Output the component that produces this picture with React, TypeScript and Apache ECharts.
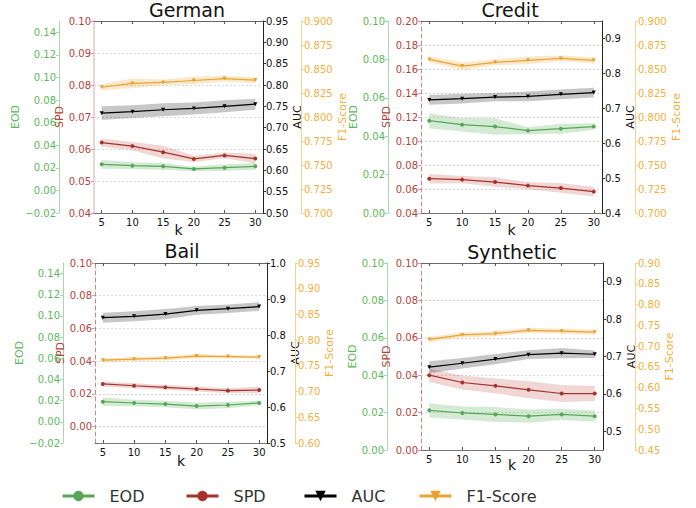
import React, { useEffect, useRef } from "react";
import * as echarts from "echarts";

// ---------- data ----------
const kValues = [5, 10, 15, 20, 25, 30];
const datasetNames = ["German", "Credit", "Bail", "Synthetic"];
const metricNames = ["EOD", "SPD", "AUC", "F1-Score"];

// German
const germanEOD = [0.0231, 0.0219, 0.0213, 0.019, 0.0201, 0.0213];
const germanEODSpread = [0.004, 0.003, 0.003, 0.002, 0.003, 0.003];
const germanSPD = [0.062, 0.0609, 0.059, 0.0569, 0.058, 0.057];
const germanSPDSpread = [0.0013, 0.0013, 0.002, 0.001, 0.0009, 0.0015];
const germanAUC = [0.734, 0.7375, 0.742, 0.745, 0.75, 0.755];
const germanAUCSpread = [0.016, 0.015, 0.015, 0.014, 0.014, 0.013];
const germanF1 = [0.831, 0.835, 0.836, 0.838, 0.84, 0.8385];
const germanF1Spread = [0.003, 0.005, 0.003, 0.004, 0.003, 0.003];

// Credit
const creditEOD = [0.0481, 0.046, 0.045, 0.0429, 0.0439, 0.045];
const creditEODSpread = [0.0039, 0.0035, 0.0043, 0.0017, 0.0026, 0.0017];
const creditSPD = [0.0686, 0.0678, 0.0658, 0.0628, 0.0608, 0.0578];
const creditSPDSpread = [0.004, 0.003, 0.004, 0.003, 0.004, 0.004];
const creditAUC = [0.724, 0.7275, 0.732, 0.734, 0.74, 0.745];
const creditAUCSpread = [0.014, 0.014, 0.012, 0.014, 0.014, 0.014];
const creditF1 = [0.86, 0.853, 0.857, 0.859, 0.861, 0.859];
const creditF1Spread = [0.003, 0.004, 0.003, 0.004, 0.003, 0.003];

// Bail
const bailEOD = [0.019, 0.0178, 0.0168, 0.0149, 0.0159, 0.0178];
const bailEODSpread = [0.004, 0.003, 0.003, 0.003, 0.003, 0.002];
const bailSPD = [0.0261, 0.025, 0.024, 0.023, 0.022, 0.0224];
const bailSPDSpread = [0.0015, 0.0015, 0.0015, 0.0015, 0.0015, 0.002];
const bailAUC = [0.848, 0.852, 0.858, 0.8685, 0.873, 0.879];
const bailAUCSpread = [0.014, 0.014, 0.014, 0.012, 0.012, 0.012];
const bailF1 = [0.761, 0.763, 0.765, 0.769, 0.768, 0.767];
const bailF1Spread = [0.004, 0.004, 0.004, 0.004, 0.003, 0.003];

// Synthetic
const synthEOD = [0.0212, 0.0198, 0.019, 0.0181, 0.019, 0.0181];
const synthEODSpread = [0.0038, 0.0035, 0.004, 0.0035, 0.003, 0.003];
const synthSPD = [0.04, 0.0361, 0.0343, 0.0322, 0.0302, 0.0302];
const synthSPDSpread = [0.0036, 0.0038, 0.004, 0.0045, 0.0045, 0.004];
const synthAUC = [0.6715, 0.682, 0.693, 0.705, 0.709, 0.706];
const synthAUCSpread = [0.016, 0.014, 0.014, 0.012, 0.014, 0.01];
const synthF1 = [0.716, 0.727, 0.73, 0.738, 0.736, 0.7335];
const synthF1Spread = [0.0065, 0.006, 0.0065, 0.006, 0.006, 0.006];

// axis ranges and tick labels
const germanEODTicks = [-0.02, 0, 0.02, 0.04, 0.06, 0.08, 0.1, 0.12, 0.14];
const germanSPDTicks = [0.04, 0.05, 0.06, 0.07, 0.08, 0.09, 0.1];
const germanAUCTicks = [0.5, 0.55, 0.6, 0.65, 0.7, 0.75, 0.8, 0.85, 0.9, 0.95];
const germanF1Ticks = [0.7, 0.725, 0.75, 0.775, 0.8, 0.825, 0.85, 0.875, 0.9];
const creditEODTicks = [0, 0.02, 0.04, 0.06, 0.08, 0.1];
const creditSPDTicks = [0.04, 0.06, 0.08, 0.1, 0.12, 0.14, 0.16, 0.18, 0.2];
const creditAUCTicks = [0.4, 0.5, 0.6, 0.7, 0.8, 0.9];
const creditF1Ticks = [0.7, 0.725, 0.75, 0.775, 0.8, 0.825, 0.85, 0.875, 0.9];
const bailEODTicks = [-0.02, 0, 0.02, 0.04, 0.06, 0.08, 0.1, 0.12, 0.14];
const bailSPDTicks = [0, 0.02, 0.04, 0.06, 0.08, 0.1];
const bailAUCTicks = [0.5, 0.6, 0.7, 0.8, 0.9, 1.0];
const bailF1Ticks = [0.6, 0.65, 0.7, 0.75, 0.8, 0.85, 0.9, 0.95];
const synthEODTicks = [0, 0.02, 0.04, 0.06, 0.08, 0.1];
const synthSPDTicks = [0, 0.02, 0.04, 0.06, 0.08, 0.1];
const synthAUCTicks = [0.5, 0.6, 0.7, 0.8, 0.9];
const synthF1Ticks = [0.45, 0.5, 0.55, 0.6, 0.65, 0.7, 0.75, 0.8, 0.85, 0.9];

const germanRanges = [[-0.02, 0.15], [0.04, 0.1], [0.5, 0.95], [0.7, 0.9]];
const creditRanges = [[0, 0.1], [0.04, 0.2], [0.4, 0.95], [0.7, 0.9]];
const bailRanges = [[-0.02, 0.15], [-0.01, 0.1], [0.5, 1.0], [0.6, 0.95]];
const synthRanges = [[0, 0.1], [0, 0.1], [0.45, 0.95], [0.45, 0.9]];

const germanDecimals = [2, 2, 2, 3];
const creditDecimals = [2, 2, 1, 3];
const bailDecimals = [2, 2, 1, 2];
const synthDecimals = [2, 2, 1, 2];

// ---------- assembly ----------
const panelMeans = [
  [germanEOD, germanSPD, germanAUC, germanF1],
  [creditEOD, creditSPD, creditAUC, creditF1],
  [bailEOD, bailSPD, bailAUC, bailF1],
  [synthEOD, synthSPD, synthAUC, synthF1],
];
const panelSpreads = [
  [germanEODSpread, germanSPDSpread, germanAUCSpread, germanF1Spread],
  [creditEODSpread, creditSPDSpread, creditAUCSpread, creditF1Spread],
  [bailEODSpread, bailSPDSpread, bailAUCSpread, bailF1Spread],
  [synthEODSpread, synthSPDSpread, synthAUCSpread, synthF1Spread],
];
const panelTicks = [
  [germanEODTicks, germanSPDTicks, germanAUCTicks, germanF1Ticks],
  [creditEODTicks, creditSPDTicks, creditAUCTicks, creditF1Ticks],
  [bailEODTicks, bailSPDTicks, bailAUCTicks, bailF1Ticks],
  [synthEODTicks, synthSPDTicks, synthAUCTicks, synthF1Ticks],
];
const panelRanges = [germanRanges, creditRanges, bailRanges, synthRanges];
const panelDecimals = [germanDecimals, creditDecimals, bailDecimals, synthDecimals];

// layout (pixels)
const grids = [
  { left: 94, top: 21, width: 169, height: 192 },
  { left: 421, top: 21, width: 181, height: 192 },
  { left: 95, top: 263, width: 172, height: 180 },
  { left: 421, top: 263, width: 182, height: 187 },
];
const eodOffsets = [35, 33, 32, 34];
const f1Offsets = [38, 33, 28, 32];
const nameGaps = [
  [36, 26, 26, 32],
  [25, 25, 20, 33],
  [30, 22, 16, 22],
  [24, 24, 17, 25],
];
const kGaps = [10, 10, 11, 8];
const titles = [
  { x: 187, y: 0 },
  { x: 510, y: 0 },
  { x: 182, y: 241 },
  { x: 512, y: 242 },
];
const spdSolid = [true, false, false, false];

const FONT = "DejaVu Sans";
const lineColors = ["#55a855", "#a8322a", "#000000", "#e8a330"];
const labelColors = ["#5cb85c", "#b5423a", "#111111", "#f0b040"];
const axisLineColors = ["#a9d9a9", "#d99a9a", "#222222", "#f3d391"];
const bandColors = [
  "rgba(85,170,85,0.25)",
  "rgba(178,50,40,0.2)",
  "rgba(0,0,0,0.22)",
  "rgba(235,165,45,0.25)",
];
const symbols = ["circle", "circle", "triangle", "triangle"];
const symbolRotates = [0, 0, 180, 180];
const legendLefts = [61, 185, 303, 418];

function fmt(v: number, d: number) {
  const s = Math.abs(v).toFixed(d);
  return v < -1e-9 ? "\u2212" + s : s;
}

function buildOption() {
  const grid: any[] = [];
  const xAxis: any[] = [];
  const topAxes: any[] = [];
  const yAxis: any[] = [];
  const series: any[] = [];
  const graphic: any[] = [];

  for (let g = 0; g < 4; g++) {
    grid.push({ ...grids[g], show: false });
    xAxis.push({
      type: "value",
      gridIndex: g,
      min: 3.75,
      max: 31.25,
      name: "k",
      nameLocation: "middle",
      nameGap: kGaps[g],
      nameMoveOverlap: false,
      nameTextStyle: { fontSize: 14, color: "#111", fontFamily: FONT },
      axisLine: { show: true, onZero: false, lineStyle: { color: "#777", width: 1 } },
      axisTick: { show: true, inside: true, length: 3, customValues: kValues, lineStyle: { color: "#555" } },
      axisLabel: {
        customValues: kValues,
        fontSize: 10,
        color: "#111",
        fontFamily: FONT,
        margin: 4,
      },
      splitLine: { show: false },
    });
    topAxes.push({
      type: "value",
      gridIndex: g,
      position: "top",
      min: 3.75,
      max: 31.25,
      axisLine: { show: true, onZero: false, lineStyle: { color: "#666", width: 1 } },
      axisTick: { show: true, inside: true, length: 3, customValues: kValues, lineStyle: { color: "#555" } },
      axisLabel: { show: false },
      splitLine: { show: false },
    });
    for (let m = 0; m < 4; m++) {
      const isLeft = m < 2;
      const offset = m === 0 ? eodOffsets[g] : m === 3 ? f1Offsets[g] : 0;
      const d = panelDecimals[g][m];
      const ticks = panelTicks[g][m];
      const lineStyle: any = { color: axisLineColors[m], width: 1 };
      if (m === 1) {
        if (spdSolid[g]) {
          lineStyle.color = "#f0d4d4";
          lineStyle.width = 2;
        } else {
          lineStyle.type = [4, 3];
          lineStyle.color = "#d98080";
        }
      }
      yAxis.push({
        type: "value",
        gridIndex: g,
        position: isLeft ? "left" : "right",
        offset,
        min: panelRanges[g][m][0],
        max: panelRanges[g][m][1],
        name: metricNames[m],
        nameLocation: "middle",
        nameGap: nameGaps[g][m],
        nameRotate: 90,
        nameTextStyle: { fontSize: 11, color: labelColors[m], fontFamily: FONT },
        axisLine: { show: true, onZero: false, lineStyle },
        axisTick: {
          show: true,
          length: 3,
          customValues: ticks,
          lineStyle: { color: m === 2 ? "#333" : axisLineColors[m] },
        },
        axisLabel: {
          customValues: ticks,
          fontSize: 10,
          color: labelColors[m],
          fontFamily: FONT,
          margin: 3,
          formatter: (v: number) => fmt(v, d),
        },
        splitLine:
          m === 1
            ? { show: true, lineStyle: { color: "#d8d8d8", type: [2, 2], width: 1 } }
            : { show: false },
      });
      const yIdx = g * 4 + m;
      const means = panelMeans[g][m];
      const spreads = panelSpreads[g][m];
      series.push({
        type: "custom",
        xAxisIndex: g,
        yAxisIndex: yIdx,
        data: kValues.map((k, i) => [k, means[i] - spreads[i], means[i] + spreads[i]]),
        encode: { x: 0, y: [1, 2] },
        renderItem: (params: any, api: any) => {
          if (params.dataIndex !== 0) return null;
          const upper = kValues.map((k, i) => api.coord([k, means[i] + spreads[i]]));
          const lower = kValues.map((k, i) => api.coord([k, means[i] - spreads[i]])).reverse();
          return {
            type: "polygon",
            shape: { points: upper.concat(lower) },
            style: { fill: bandColors[m], stroke: "none" },
          };
        },
        silent: true,
        z: 1,
      });
      series.push({
        type: "line",
        name: metricNames[m],
        xAxisIndex: g,
        yAxisIndex: yIdx,
        data: kValues.map((k, i) => [k, means[i]]),
        symbol: symbols[m],
        symbolRotate: symbolRotates[m],
        symbolSize: 4,
        color: lineColors[m],
        itemStyle: { color: lineColors[m] },
        lineStyle: { color: lineColors[m], width: 1.2 },
        z: 3,
      });
    }
    graphic.push({
      type: "text",
      x: titles[g].x,
      y: titles[g].y,
      style: {
        text: datasetNames[g],
        fontSize: 19,
        fontFamily: FONT,
        fill: "#111",
        align: "center",
        verticalAlign: "top",
        textAlign: "center",
        textVerticalAlign: "top",
      },
    });
  }

  const legend = metricNames.map((name, m) => ({
    data: [name],
    left: legendLefts[m],
    top: 488,
    padding: 0,
    itemWidth: 32,
    itemHeight: 13,
    itemGap: 0,
    lineStyle: { width: 3 },
    textStyle: { fontSize: 16, color: "#333", fontFamily: FONT, padding: [0, 0, 0, 10] },
    selectedMode: false,
  }));

  return {
    animation: false,
    backgroundColor: "#ffffff",
    textStyle: { fontFamily: FONT },
    grid,
    xAxis: xAxis.concat(topAxes),
    yAxis,
    series,
    legend,
    graphic,
  };
}

export default function App() {
  const ref = useRef<HTMLDivElement | null>(null);
  useEffect(() => {
    if (!ref.current) return;
    const chart = echarts.init(ref.current, undefined, { renderer: "svg" });
    chart.setOption(buildOption() as any);
    return () => chart.dispose();
  }, []);
  return (
    <div
      ref={ref}
      style={{ position: "fixed", left: 0, top: 0, width: 696, height: 508 }}
    />
  );
}
